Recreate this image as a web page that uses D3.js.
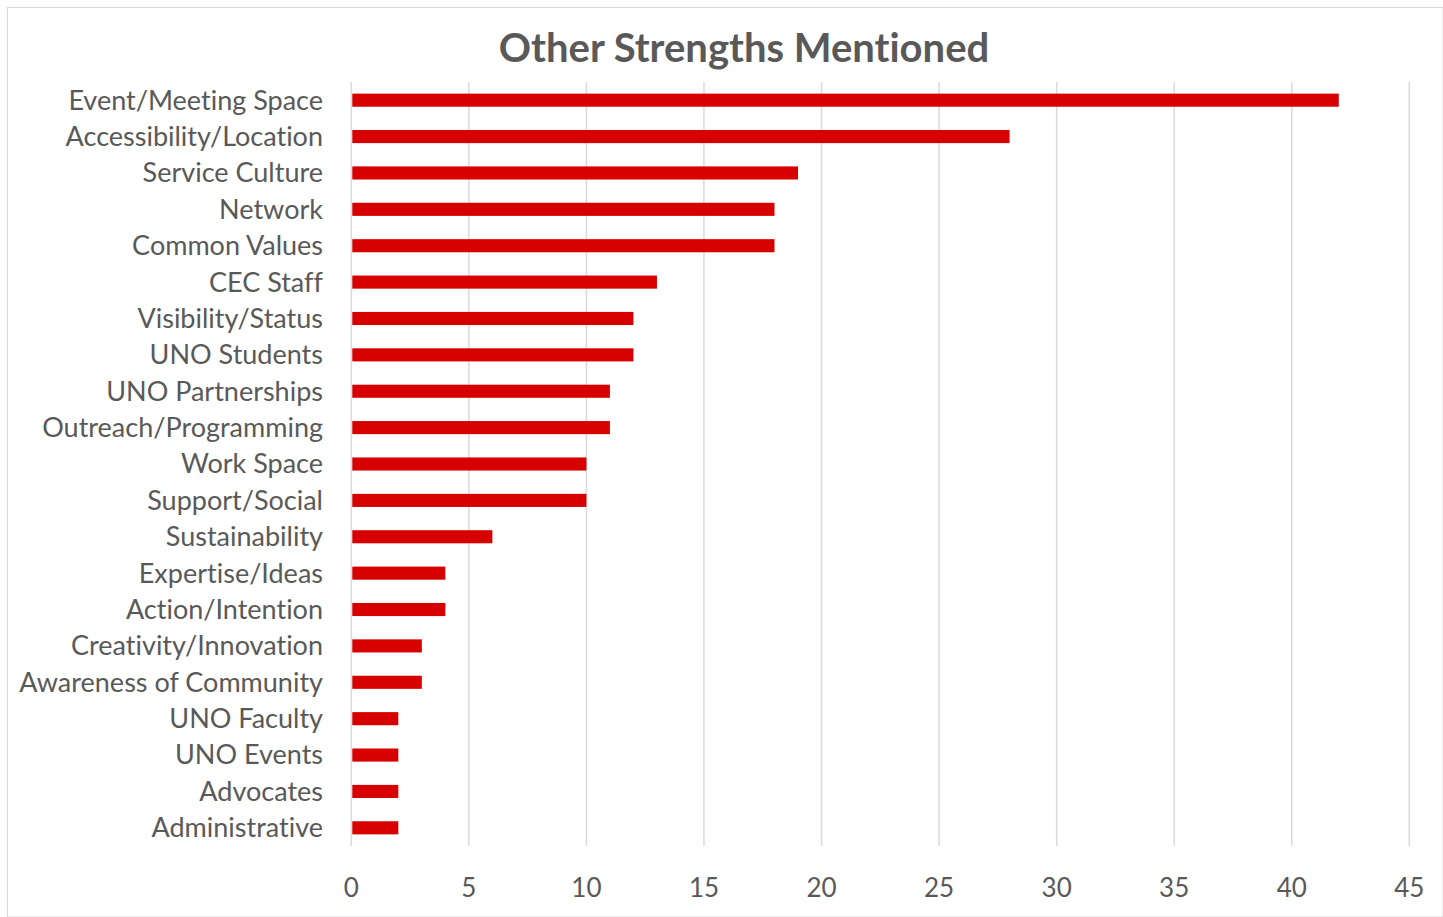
<!DOCTYPE html>
<html>
<head>
<meta charset="utf-8">
<script src="https://cdn.jsdelivr.net/npm/d3@7"></script>
<style>
  html, body { margin: 0; padding: 0; background: #fff; }
  svg { display: block; }
  text { font-variant-ligatures: none; }
</style>
</head>
<body>
<svg id="chart" width="1443" height="917"></svg>
<script>
// Categories, top to bottom
const categories = [
  "Event/Meeting Space", "Accessibility/Location", "Service Culture", "Network",
  "Common Values", "CEC Staff", "Visibility/Status", "UNO Students",
  "UNO Partnerships", "Outreach/Programming", "Work Space", "Support/Social",
  "Sustainability", "Expertise/Ideas", "Action/Intention", "Creativity/Innovation",
  "Awareness of Community", "UNO Faculty", "UNO Events", "Advocates", "Administrative"
];
// Number of mentions per category
const mentions = [42, 28, 19, 18, 18, 13, 12, 12, 11, 11, 10, 10, 6, 4, 4, 3, 3, 2, 2, 2, 2];
// Axis tick values
const tickValues = [0, 5, 10, 15, 20, 25, 30, 35, 40, 45];
const title = "Other Strengths Mentioned";

const svg = d3.select("#chart");
const font = "Lato, 'Open Sans', sans-serif";
const textColor = "#595959";

// Chart frame
svg.append("rect")
  .attr("x", 7.5).attr("y", 7.5)
  .attr("width", 1443 - 7.5).attr("height", 917 - 7.5)
  .attr("fill", "#fff").attr("stroke", "#d9d9d9").attr("stroke-width", 1);

const plot = { left: 351.3, right: 1409.3, top: 82, bottom: 846 };

const x = d3.scaleLinear().domain([0, 45]).range([plot.left, plot.right]);
const y = d3.scaleBand().domain(categories).range([plot.top, plot.bottom])
  .paddingInner(0.64).paddingOuter(0.32);

// Vertical gridlines
svg.append("g").selectAll("line")
  .data(tickValues)
  .join("line")
  .attr("x1", d => x(d)).attr("x2", d => x(d))
  .attr("y1", plot.top).attr("y2", plot.bottom)
  .attr("stroke", "#d9d9d9").attr("stroke-width", 1.5);

// Bars
svg.append("g").selectAll("rect")
  .data(categories)
  .join("rect")
  .attr("x", x(0) + 1)
  .attr("y", d => y(d))
  .attr("width", (d, i) => x(mentions[i]) - x(0) - 1)
  .attr("height", y.bandwidth())
  .attr("fill", "#d60000");

// Category labels
svg.append("g").selectAll("text")
  .data(categories)
  .join("text")
  .attr("x", 323)
  .attr("y", d => y(d) + y.bandwidth() / 2)
  .attr("dy", "0.35em")
  .attr("text-anchor", "end")
  .attr("font-family", font)
  .attr("font-size", 27)
  .attr("fill", textColor)
  .text(d => d);

// X-axis tick labels
svg.append("g").selectAll("text")
  .data(tickValues)
  .join("text")
  .attr("x", d => x(d))
  .attr("y", 897)
  .attr("text-anchor", "middle")
  .attr("font-family", font)
  .attr("font-size", 26)
  .attr("fill", textColor)
  .text(d => d);

// Title
svg.append("text")
  .attr("x", 744)
  .attr("y", 62)
  .attr("text-anchor", "middle")
  .attr("font-family", font)
  .attr("font-weight", "bold")
  .attr("font-size", 40)
  .attr("fill", textColor)
  .text(title);
</script>
</body>
</html>
